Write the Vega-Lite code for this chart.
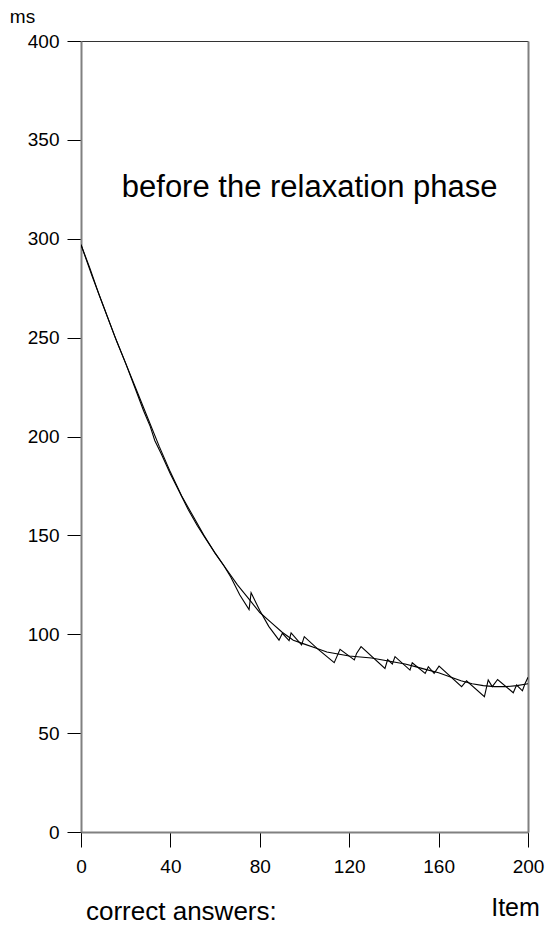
{
  "$schema": "https://vega.github.io/schema/vega-lite/v6.json",
  "width": 447,
  "height": 791,
  "autosize": {"type": "none"},
  "padding": {"left": 81, "top": 41, "right": 21, "bottom": 103},
  "background": "white",
  "config": {"view": {"stroke": null}, "font": "Liberation Sans"},
  "title": {
    "text": "correct answers:",
    "orient": "bottom",
    "anchor": "start",
    "frame": "group",
    "baseline": "alphabetic",
    "offset": 0,
    "dx": 5,
    "fontSize": 26,
    "fontWeight": "normal",
    "font": "Liberation Sans",
    "color": "black"
  },
  "datasets": {
    "rt": [
      {"series": "observed", "item": 0, "ms": 297},
      {"series": "observed", "item": 4, "ms": 285},
      {"series": "observed", "item": 8, "ms": 272},
      {"series": "observed", "item": 12, "ms": 260},
      {"series": "observed", "item": 16, "ms": 248},
      {"series": "observed", "item": 20, "ms": 237},
      {"series": "observed", "item": 24, "ms": 225},
      {"series": "observed", "item": 28, "ms": 213},
      {"series": "observed", "item": 31, "ms": 205},
      {"series": "observed", "item": 33, "ms": 198},
      {"series": "observed", "item": 36, "ms": 191},
      {"series": "observed", "item": 40, "ms": 181},
      {"series": "observed", "item": 44, "ms": 172},
      {"series": "observed", "item": 48, "ms": 163},
      {"series": "observed", "item": 52, "ms": 155},
      {"series": "observed", "item": 56, "ms": 148},
      {"series": "observed", "item": 60, "ms": 141},
      {"series": "observed", "item": 64, "ms": 134.5},
      {"series": "observed", "item": 67, "ms": 129},
      {"series": "observed", "item": 71, "ms": 120},
      {"series": "observed", "item": 75.2, "ms": 112.5},
      {"series": "observed", "item": 76.1, "ms": 121},
      {"series": "observed", "item": 80, "ms": 112},
      {"series": "observed", "item": 84, "ms": 104},
      {"series": "observed", "item": 88.6, "ms": 97},
      {"series": "observed", "item": 90.1, "ms": 100.5},
      {"series": "observed", "item": 93.1, "ms": 96.8},
      {"series": "observed", "item": 94, "ms": 100.7},
      {"series": "observed", "item": 98.7, "ms": 94.6},
      {"series": "observed", "item": 99.9, "ms": 98.8},
      {"series": "observed", "item": 106, "ms": 92.5},
      {"series": "observed", "item": 113.3, "ms": 85.6},
      {"series": "observed", "item": 115.9, "ms": 92.4},
      {"series": "observed", "item": 122.3, "ms": 87},
      {"series": "observed", "item": 123.3, "ms": 90.3},
      {"series": "observed", "item": 125.3, "ms": 93.7},
      {"series": "observed", "item": 136, "ms": 82.7},
      {"series": "observed", "item": 137.2, "ms": 87.2},
      {"series": "observed", "item": 139.3, "ms": 85},
      {"series": "observed", "item": 140.5, "ms": 88.7},
      {"series": "observed", "item": 147.2, "ms": 81.9},
      {"series": "observed", "item": 148.2, "ms": 85.6},
      {"series": "observed", "item": 154, "ms": 80.2},
      {"series": "observed", "item": 155.4, "ms": 83.6},
      {"series": "observed", "item": 158, "ms": 80.2},
      {"series": "observed", "item": 160.2, "ms": 83.9},
      {"series": "observed", "item": 170.3, "ms": 73.5},
      {"series": "observed", "item": 172.5, "ms": 76.5},
      {"series": "observed", "item": 180.5, "ms": 68.4},
      {"series": "observed", "item": 182.2, "ms": 76.9},
      {"series": "observed", "item": 184, "ms": 73.5},
      {"series": "observed", "item": 186.4, "ms": 77.1},
      {"series": "observed", "item": 193.4, "ms": 70.4},
      {"series": "observed", "item": 194.9, "ms": 74.3},
      {"series": "observed", "item": 197.5, "ms": 71.4},
      {"series": "observed", "item": 198.7, "ms": 75.1},
      {"series": "observed", "item": 200, "ms": 78.2},
      {"series": "fit", "item": 0, "ms": 297},
      {"series": "fit", "item": 5, "ms": 281},
      {"series": "fit", "item": 10, "ms": 266},
      {"series": "fit", "item": 15, "ms": 251},
      {"series": "fit", "item": 20, "ms": 237},
      {"series": "fit", "item": 25, "ms": 223},
      {"series": "fit", "item": 30, "ms": 209},
      {"series": "fit", "item": 35, "ms": 195},
      {"series": "fit", "item": 40, "ms": 182},
      {"series": "fit", "item": 45, "ms": 170},
      {"series": "fit", "item": 50, "ms": 160},
      {"series": "fit", "item": 55, "ms": 150},
      {"series": "fit", "item": 60, "ms": 141},
      {"series": "fit", "item": 65, "ms": 133},
      {"series": "fit", "item": 70, "ms": 125},
      {"series": "fit", "item": 75, "ms": 118},
      {"series": "fit", "item": 80, "ms": 111},
      {"series": "fit", "item": 85, "ms": 106},
      {"series": "fit", "item": 90, "ms": 101},
      {"series": "fit", "item": 95, "ms": 97},
      {"series": "fit", "item": 100, "ms": 95},
      {"series": "fit", "item": 105, "ms": 93},
      {"series": "fit", "item": 110, "ms": 91},
      {"series": "fit", "item": 115, "ms": 90},
      {"series": "fit", "item": 120, "ms": 89},
      {"series": "fit", "item": 125, "ms": 88.5},
      {"series": "fit", "item": 130, "ms": 88},
      {"series": "fit", "item": 135, "ms": 87},
      {"series": "fit", "item": 140, "ms": 86},
      {"series": "fit", "item": 145, "ms": 85},
      {"series": "fit", "item": 150, "ms": 83.5},
      {"series": "fit", "item": 155, "ms": 82},
      {"series": "fit", "item": 160, "ms": 80.5},
      {"series": "fit", "item": 165, "ms": 78.5},
      {"series": "fit", "item": 170, "ms": 76.5},
      {"series": "fit", "item": 175, "ms": 75},
      {"series": "fit", "item": 180, "ms": 74},
      {"series": "fit", "item": 185, "ms": 73.5},
      {"series": "fit", "item": 190, "ms": 73.5},
      {"series": "fit", "item": 195, "ms": 74},
      {"series": "fit", "item": 200, "ms": 75}
    ]
  },
  "layer": [
    {
      "data": {"name": "rt"},
      "mark": {"type": "line", "color": "black", "strokeWidth": 1.1, "clip": true},
      "encoding": {
        "x": {
          "field": "item",
          "type": "quantitative",
          "scale": {"domain": [0, 200], "nice": false, "zero": false},
          "axis": {
            "orient": "bottom",
            "values": [0, 40, 80, 120, 160, 200],
            "grid": false,
            "tickSize": 15,
            "tickColor": "black",
            "tickWidth": 1,
            "domainColor": "#808080",
            "domainWidth": 2,
            "labelFontSize": 19,
            "labelPadding": 10,
            "labelColor": "black",
            "labelFont": "Liberation Sans",
            "labelFlush": false,
            "labelOverlap": false,
            "labelBound": false,
            "title": "Item",
            "titleX": 434,
            "titleY": 83,
            "titleAlign": "center",
            "titleBaseline": "alphabetic",
            "titleFontSize": 25,
            "titleFontWeight": "normal",
            "titleFont": "Liberation Sans",
            "titleColor": "black"
          }
        },
        "y": {
          "field": "ms",
          "type": "quantitative",
          "scale": {"domain": [0, 400], "nice": false},
          "axis": {
            "orient": "left",
            "values": [0, 50, 100, 150, 200, 250, 300, 350, 400],
            "grid": false,
            "tickSize": 14,
            "tickColor": "black",
            "tickWidth": 1,
            "domainColor": "#808080",
            "domainWidth": 2,
            "labelFontSize": 19,
            "labelPadding": 8,
            "labelColor": "black",
            "labelFont": "Liberation Sans",
            "labelFlush": false,
            "labelOverlap": false,
            "labelBound": false,
            "title": "ms",
            "titleAngle": 0,
            "titleX": -59,
            "titleY": -19,
            "titleAlign": "center",
            "titleBaseline": "alphabetic",
            "titleFontSize": 19,
            "titleFontWeight": "normal",
            "titleFont": "Liberation Sans",
            "titleColor": "black"
          }
        },
        "detail": {"field": "series", "type": "nominal"}
      }
    },
    {
      "data": {"values": [{}]},
      "mark": {
        "type": "text",
        "text": "before the relaxation phase",
        "align": "center",
        "baseline": "alphabetic",
        "fontSize": 31,
        "font": "Liberation Sans",
        "color": "black"
      },
      "encoding": {
        "x": {
          "datum": 102.3,
          "type": "quantitative",
          "axis": {"orient": "top", "labels": false, "ticks": false, "grid": false, "title": null, "domainColor": "#333333", "domainWidth": 1}
        },
        "y": {
          "datum": 321.3,
          "type": "quantitative",
          "axis": {"orient": "right", "labels": false, "ticks": false, "grid": false, "title": null, "domainColor": "#808080", "domainWidth": 2}
        }
      }
    }
  ],
  "resolve": {"axis": {"x": "independent", "y": "independent"}}
}
